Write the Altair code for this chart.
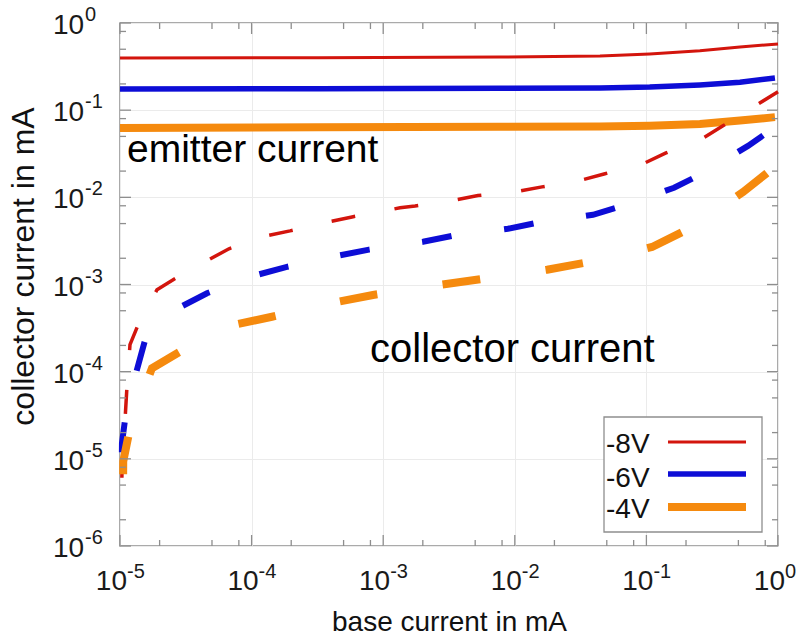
import altair as alt
import pandas as pd

W, H = 658, 523
FONT = "Liberation Sans"
GRAY = "#8e8e8e"

# ---------------- data (values in mA) ----------------
volts = ["-8V", "-6V", "-4V"]
colors = ["#d3150d", "#0d0dd6", "#f58a0e"]

# emitter current (solid)
em8_x = [1.0e-5, 3.2e-4, 7.73e-3, 4.44e-2, 0.106, 0.255, 0.514, 1.0]
em8_y = [0.398, 0.400, 0.407, 0.417, 0.442, 0.479, 0.531, 0.575]
em6_x = [1.0e-5, 3.2e-4, 7.73e-3, 4.44e-2, 0.106, 0.255, 0.514, 0.948]
em6_y = [0.175, 0.176, 0.178, 0.180, 0.184, 0.195, 0.209, 0.234]
em4_x = [1.0e-5, 3.2e-4, 7.73e-3, 4.44e-2, 0.106, 0.255, 0.514, 0.948]
em4_y = [0.0625, 0.0635, 0.0646, 0.0650, 0.0661, 0.0692, 0.0759, 0.0832]

# collector current (dashed)
co8_x = [1.026e-5, 1.035e-5, 1.130e-5, 1.191e-5, 1.393e-5, 1.910e-5, 2.570e-5,
         4.667e-5, 6.730e-5, 1.309e-4, 1.959e-4, 3.873e-4, 5.794e-4, 1.343e-3,
         1.746e-3, 3.516e-3, 5.248e-3, 1.076e-2, 1.611e-2, 3.243e-2, 4.842e-2,
         9.594e-2, 0.1409, 0.2692, 0.3819, 0.7047, 1.0]
co8_y = [3.39e-6, 6.92e-6, 6.76e-5, 2.04e-4, 3.63e-4, 8.71e-4, 1.148e-3,
         1.905e-3, 2.570e-3, 3.631e-3, 4.121e-3, 5.248e-3, 5.957e-3, 7.586e-3,
         7.943e-3, 9.333e-3, 1.047e-2, 1.175e-2, 1.318e-2, 1.585e-2, 1.862e-2,
         2.455e-2, 3.236e-2, 4.786e-2, 6.607e-2, 0.1175, 0.1622]
co6_x = [1.026e-5, 1.035e-5, 1.112e-5, 1.300e-5, 1.549e-5, 2.858e-5, 4.581e-5,
         1.099e-4, 1.824e-4, 4.539e-4, 7.798e-4, 2.005e-3, 3.388e-3, 8.872e-3,
         1.500e-2, 3.926e-2, 6.531e-2, 0.1622, 0.2642, 0.5916, 1.0]
co6_y = [3.63e-6, 1.514e-5, 3.467e-5, 8.71e-5, 2.291e-4, 5.495e-4, 7.943e-4,
         1.288e-3, 1.585e-3, 2.138e-3, 2.512e-3, 3.090e-3, 3.631e-3, 4.365e-3,
         5.129e-3, 6.310e-3, 7.943e-3, 1.288e-2, 1.862e-2, 3.890e-2, 6.76e-2]
co4_x = [1.019e-5, 1.054e-5, 1.058e-5, 1.213e-5, 1.750e-5, 2.858e-5, 7.482e-5,
         1.429e-4, 4.457e-4, 8.356e-4, 2.799e-3, 5.445e-3, 1.758e-2, 3.412e-2,
         0.1104, 0.2037, 0.5420, 1.0]
co4_y = [1.230e-6, 3.548e-6, 9.333e-6, 2.570e-5, 1.096e-4, 1.698e-4, 3.467e-4,
         4.266e-4, 6.310e-4, 7.586e-4, 1.000e-3, 1.148e-3, 1.479e-3, 1.778e-3,
         2.692e-3, 4.266e-3, 1.148e-2, 2.40e-2]

emitter = [(em8_x, em8_y), (em6_x, em6_y), (em4_x, em4_y)]
collector = [(co8_x, co8_y), (co6_x, co6_y), (co4_x, co4_y)]
em_widths = [3, 5.5, 8]
co_widths = [3.5, 6, 8]
co_dash = [[24, 40], [30, 53], [38, 66]]
co_offset = [42, 38, 40]

x_major = [1e-5, 1e-4, 1e-3, 1e-2, 1e-1, 1e0]
x_exps = ["-5", "-4", "-3", "-2", "-1", "0"]
y_major = [1e-6, 1e-5, 1e-4, 1e-3, 1e-2, 1e-1, 1e0]
y_exps = ["-6", "-5", "-4", "-3", "-2", "-1", "0"]
minor_mult = [2, 5, 8]

x_title = "base current in mA"
y_title = "collector current in mA"
notes = ["emitter current", "collector current"]
notes_x = [1.13e-5, 7.94e-4]
notes_y = [0.0255, 1.29e-4]

# ---------------- helpers ----------------
xs = alt.Scale(type="log", domain=[1e-5, 1.0], nice=False)
ys = alt.Scale(type="log", domain=[1e-6, 1.0], nice=False)


def X():
    return alt.X("x:Q", scale=xs, axis=alt.Axis(
        values=x_major, grid=True, gridColor="#ebebeb", gridWidth=1,
        labels=False, ticks=False, domain=False, title=x_title,
        titleFont=FONT, titleFontSize=28, titleFontWeight="normal",
        titleColor="#111", titleY=84, titleBaseline="alphabetic"))


def Y():
    return alt.Y("y:Q", scale=ys, axis=alt.Axis(
        values=y_major, grid=True, gridColor="#ebebeb", gridWidth=1,
        labels=False, ticks=False, domain=False, title=y_title,
        titleFont=FONT, titleFontSize=32, titleFontWeight="normal",
        titleColor="#111", titleX=-87, titleY=243, titleAngle=270,
        titleAlign="center", titleBaseline="alphabetic"))


layers = []

# emitter solid lines
for (xv, yv), c, w in zip(emitter, colors, em_widths):
    df = pd.DataFrame({"x": xv, "y": yv})
    layers.append(alt.Chart(df).mark_line(color=c, strokeWidth=w, strokeCap="butt")
                  .encode(x=X(), y=Y()))

# collector dashed lines
for (xv, yv), c, w, d, o in zip(collector, colors, co_widths, co_dash, co_offset):
    df = pd.DataFrame({"x": xv, "y": yv})
    layers.append(alt.Chart(df).mark_line(color=c, strokeWidth=w, strokeCap="butt",
                                          strokeDash=d, strokeDashOffset=o)
                  .encode(x=X(), y=Y()))

# inward ticks
x_minor = [m * v for v in x_major[:-1] for m in minor_mult]
y_minor = [m * v for v in y_major[:-1] for m in minor_mult]
xmaj_df = pd.DataFrame({"x": x_major})
xmin_df = pd.DataFrame({"x": x_minor})
ymaj_df = pd.DataFrame({"y": y_major})
ymin_df = pd.DataFrame({"y": y_minor})
for df, L in [(xmaj_df, 11), (xmin_df, 6)]:
    layers.append(alt.Chart(df).mark_rule(color=GRAY, strokeWidth=1.3)
                  .encode(x=X(), y=alt.value(H), y2=alt.value(H - L)))
    layers.append(alt.Chart(df).mark_rule(color=GRAY, strokeWidth=1.3)
                  .encode(x=X(), y=alt.value(0), y2=alt.value(L)))
for df, L in [(ymaj_df, 11), (ymin_df, 6)]:
    layers.append(alt.Chart(df).mark_rule(color=GRAY, strokeWidth=1.3)
                  .encode(y=Y(), x=alt.value(0), x2=alt.value(L)))
    layers.append(alt.Chart(df).mark_rule(color=GRAY, strokeWidth=1.3)
                  .encode(y=Y(), x=alt.value(W), x2=alt.value(W - L)))

# tick labels (10 with superscript exponent)
xl = pd.DataFrame({"x": x_major, "b": ["10"] * len(x_major), "e": x_exps})
layers.append(alt.Chart(xl).mark_text(align="right", baseline="alphabetic", font=FONT,
                                      fontSize=28, dx=7, color="#1a1a1a")
              .encode(x=X(), y=alt.value(H + 44), text="b:N"))
layers.append(alt.Chart(xl).mark_text(align="left", baseline="alphabetic", font=FONT,
                                      fontSize=20, dx=7, color="#1a1a1a")
              .encode(x=X(), y=alt.value(H + 32), text="e:N"))
yl = pd.DataFrame({"y": y_major, "b": ["10"] * len(y_major), "e": y_exps})
layers.append(alt.Chart(yl).mark_text(align="left", baseline="alphabetic", font=FONT,
                                      fontSize=28, dy=11, color="#1a1a1a")
              .encode(y=Y(), x=alt.value(-67), text="b:N"))
layers.append(alt.Chart(yl).mark_text(align="left", baseline="alphabetic", font=FONT,
                                      fontSize=20, dy=-2, color="#1a1a1a")
              .encode(y=Y(), x=alt.value(-35), text="e:N"))

# annotations
ndf = pd.DataFrame({"x": notes_x, "y": notes_y, "t": notes})
layers.append(alt.Chart(ndf.iloc[[0]]).mark_text(align="left", baseline="alphabetic",
                                                 font=FONT, fontSize=39, color="black")
              .encode(x=X(), y=Y(), text="t:N"))
layers.append(alt.Chart(ndf.iloc[[1]]).mark_text(align="left", baseline="alphabetic",
                                                 font=FONT, fontSize=40, color="black")
              .encode(x=X(), y=Y(), text="t:N"))

# legend (manual: label left, line right)
one = pd.DataFrame({"a": [0]})
layers.append(alt.Chart(one).mark_rect(fill="white", stroke=GRAY, strokeWidth=1.3)
              .encode(x=alt.value(484), x2=alt.value(642), y=alt.value(394), y2=alt.value(509)))
leg_text_y = [430, 464, 495]
leg_line_y = [419, 451, 484]
for v, c, w, ty, ly in zip(volts, colors, em_widths, leg_text_y, leg_line_y):
    layers.append(alt.Chart(one).mark_text(align="left", baseline="alphabetic", font=FONT,
                                           fontSize=28, color="#111")
                  .encode(x=alt.value(486), y=alt.value(ty), text=alt.value(v)))
    layers.append(alt.Chart(one).mark_rule(color=c, strokeWidth=w)
                  .encode(x=alt.value(548), x2=alt.value(626), y=alt.value(ly)))

chart = alt.layer(*layers).properties(
    width=W, height=H,
    autosize=alt.AutoSizeParams(type="none"),
    padding={"left": 120, "top": 23, "right": 24, "bottom": 97},
    background="white",
).configure_view(stroke=GRAY, strokeWidth=1.5)

chart.save("out.html", embed_options={"renderer": "svg", "actions": False})
